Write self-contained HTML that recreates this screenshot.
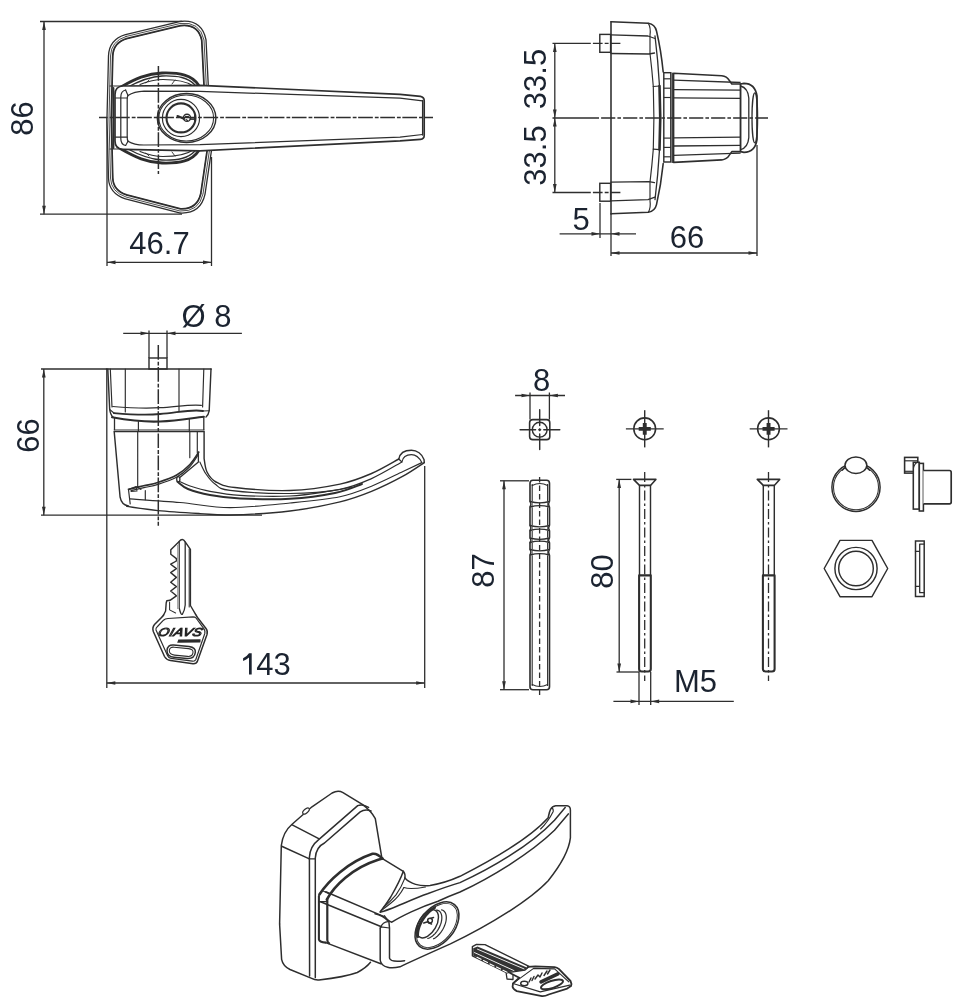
<!DOCTYPE html>
<html><head><meta charset="utf-8"><style>
html,body{margin:0;padding:0;background:#fff;}
svg{display:block;will-change:transform;}
text{font-family:"Liberation Sans",sans-serif;}
</style></head><body>
<svg width="953" height="1000" viewBox="0 0 953 1000">
<rect width="953" height="1000" fill="#fff"/>
<line x1="40" y1="21.5" x2="182" y2="21.5" stroke="#2e2e2e" stroke-width="1.30" />
<line x1="40" y1="214.2" x2="182" y2="214.2" stroke="#2e2e2e" stroke-width="1.30" />
<line x1="44" y1="21.5" x2="44" y2="214.2" stroke="#2e2e2e" stroke-width="1.30" />
<polygon points="44,21.5 45.85,30.00 42.15,30.00" fill="#2e2e2e"/>
<polygon points="44,214.2 42.15,205.70 45.85,205.70" fill="#2e2e2e"/>
<text x="33" y="118.5" font-size="31" text-anchor="middle" fill="#1b2330" transform="rotate(-90 33 118.5)">86</text>
<line x1="107" y1="118" x2="107" y2="266" stroke="#2e2e2e" stroke-width="1.30" />
<line x1="211.5" y1="157" x2="211.5" y2="266" stroke="#2e2e2e" stroke-width="1.30" />
<line x1="107" y1="262.3" x2="211.5" y2="262.3" stroke="#2e2e2e" stroke-width="1.30" />
<polygon points="107,262.3 115.50,260.45 115.50,264.15" fill="#2e2e2e"/>
<polygon points="211.5,262.3 203.00,264.15 203.00,260.45" fill="#2e2e2e"/>
<text x="159.5" y="253.5" font-size="31" text-anchor="middle" fill="#1b2330">46.7</text>
<clipPath id="plateclip"><path d="M 126,36.5 L 180,23.5 Q 200,21 204,40 L 209.5,150 L 203,194 Q 199,212 180,211 L 126,197 Q 111,192 110.5,178 L 109,118 L 110.5,56 Q 111,41 126,36.5 Z"/></clipPath>
<path d="M 126,36.5 L 180,23.5 Q 200,21 204,40 L 209.5,150 L 203,194 Q 199,212 180,211 L 126,197 Q 111,192 110.5,178 L 109,118 L 110.5,56 Q 111,41 126,36.5 Z" stroke="#2e2e2e" stroke-width="5.33" fill="none" stroke-linejoin="round" stroke-linecap="round" />
<path d="M 126,36.5 L 180,23.5 Q 200,21 204,40 L 209.5,150 L 203,194 Q 199,212 180,211 L 126,197 Q 111,192 110.5,178 L 109,118 L 110.5,56 Q 111,41 126,36.5 Z" stroke="#2e2e2e" stroke-width="6.24" fill="none" stroke-linejoin="round" stroke-linecap="round" clip-path="url(#plateclip)"/>
<path d="M 126,36.5 L 180,23.5 Q 200,21 204,40 L 209.5,150 L 203,194 Q 199,212 180,211 L 126,197 Q 111,192 110.5,178 L 109,118 L 110.5,56 Q 111,41 126,36.5 Z" stroke="#fff" stroke-width="2.73" fill="none" stroke-linejoin="round" stroke-linecap="round" />
<path d="M 126,36.5 L 180,23.5 Q 200,21 204,40 L 209.5,150 L 203,194 Q 199,212 180,211 L 126,197 Q 111,192 110.5,178 L 109,118 L 110.5,56 Q 111,41 126,36.5 Z" stroke="#2e2e2e" stroke-width="0.85" fill="none" stroke-linejoin="round" stroke-linecap="round" />
<path d="M 121,87 C 135,79 147,73.5 162,73 C 180,72.5 192,75 198.5,85 L 198.5,90 L 121,90 Z" fill="#fff" stroke="none"/>
<path d="M 121,87 C 135,79 147,73.5 162,73 C 180,72.5 192,75 198.5,85" stroke="#2e2e2e" stroke-width="2.86" fill="none" stroke-linejoin="round" stroke-linecap="round" />
<path d="M 126,88 C 138,81.5 149,76.5 162,76 C 178,75.5 188,77.5 195,85" stroke="#2e2e2e" stroke-width="1.30" fill="none" stroke-linejoin="round" stroke-linecap="round" />
<path d="M 140,84.5 C 150,80.5 156,79.5 163,79.5 C 176,79.5 186,81 193,86" stroke="#2e2e2e" stroke-width="1.10" fill="none" stroke-linejoin="round" stroke-linecap="round" />
<path d="M 146,83 L 149,80 M 172,84 L 175,80" stroke="#2e2e2e" stroke-width="0.91" fill="none" stroke-linejoin="round" stroke-linecap="round" />
<path d="M 121,149 C 135,157 147,162.5 162,163 C 180,163.5 192,161 198.5,151 L 198.5,146 L 121,146 Z" fill="#fff" stroke="none"/>
<path d="M 121,149 C 135,157 147,162.5 162,163 C 180,163.5 192,161 198.5,151" stroke="#2e2e2e" stroke-width="2.86" fill="none" stroke-linejoin="round" stroke-linecap="round" />
<path d="M 126,148 C 138,154.5 149,159.5 162,160 C 178,160.5 188,158.5 195,151" stroke="#2e2e2e" stroke-width="1.30" fill="none" stroke-linejoin="round" stroke-linecap="round" />
<path d="M 140,151.5 C 150,155.5 156,156.5 163,156.5 C 176,156.5 186,155 193,150" stroke="#2e2e2e" stroke-width="1.10" fill="none" stroke-linejoin="round" stroke-linecap="round" />
<path d="M 146,153 L 149,156 M 172,152 L 175,156" stroke="#2e2e2e" stroke-width="0.91" fill="none" stroke-linejoin="round" stroke-linecap="round" />
<path d="M 123.2,86 L 200,85.3 L 400,94.3 L 420.5,96.3 Q 424.2,97 424.2,100.5 L 424.2,135.5 Q 424.2,139 420.5,139.3 L 400,140.8 L 200,150.8 L 123.2,149.3 Q 115,149 115,141 L 115,94.5 Q 115,86.3 123.2,86 Z" stroke="#2e2e2e" stroke-width="1.69" fill="#fff" stroke-linejoin="round" stroke-linecap="round" />
<path d="M 113.4,88 L 113.4,148" stroke="#2e2e2e" stroke-width="1.95" fill="none" stroke-linejoin="round" stroke-linecap="round" />
<path d="M 110,86 L 121,86 M 110,149 L 121,149" stroke="#2e2e2e" stroke-width="1.17" fill="none" stroke-linejoin="round" stroke-linecap="round" />
<path d="M 125.6,90 Q 120.8,91 120.8,97 L 120.8,138.5 Q 120.8,144.5 125.6,145.5" stroke="#2e2e2e" stroke-width="1.23" fill="none" stroke-linejoin="round" stroke-linecap="round" />
<path d="M 128,95.6 Q 127.2,96.5 127.2,99 L 127.2,137 Q 127.2,140 128,141.2" stroke="#2e2e2e" stroke-width="1.23" fill="none" stroke-linejoin="round" stroke-linecap="round" />
<path d="M 115.5,98 L 127.2,98 M 115.5,137.2 L 127.2,137.2 M 125.6,90 L 128,95.6 M 125.6,145.5 L 128,141.2" stroke="#2e2e2e" stroke-width="1.17" fill="none" stroke-linejoin="round" stroke-linecap="round" />
<path d="M 128,95.6 Q 134,91.5 144,91.2 L 200,91.4 L 400,98.2 L 422.5,100.8" stroke="#2e2e2e" stroke-width="1.23" fill="none" stroke-linejoin="round" stroke-linecap="round" />
<path d="M 128,141.2 Q 134,145 144,145 L 200,144.6 L 400,137.2 L 422.5,134.5" stroke="#2e2e2e" stroke-width="1.23" fill="none" stroke-linejoin="round" stroke-linecap="round" />
<path d="M 422.6,100.5 L 422.6,135" stroke="#2e2e2e" stroke-width="1.30" fill="none" stroke-linejoin="round" stroke-linecap="round" />
<ellipse cx="186.6" cy="118" rx="29.3" ry="24.5" fill="#fff" stroke="#2e2e2e" stroke-width="1.43"/>
<ellipse cx="186.2" cy="118" rx="27.4" ry="23" fill="none" stroke="#2e2e2e" stroke-width="1.04"/>
<circle cx="181" cy="118" r="18.6" fill="none" stroke="#2e2e2e" stroke-width="1.17"/>
<circle cx="181" cy="117.9" r="14.5" fill="#fff" stroke="#2e2e2e" stroke-width="2.08"/>
<circle cx="187" cy="117.8" r="3.6" fill="none" stroke="#2e2e2e" stroke-width="1.43"/>
<path d="M 177.5,116 L 184,118.8" stroke="#2e2e2e" stroke-width="2.08" fill="none" stroke-linejoin="round" stroke-linecap="round" />
<path d="M 185.5,116.5 L 188.5,116.5 M 186,119.5 L 187.5,120.5" stroke="#2e2e2e" stroke-width="1.17" fill="none" stroke-linejoin="round" stroke-linecap="round" />
<rect x="189.5" y="118.3" width="4.6" height="1.6" fill="#2e2e2e"/>
<rect x="194" y="115" width="1.6" height="6" fill="#2e2e2e"/>
<line x1="552.5" y1="43.4" x2="620.4" y2="43.4" stroke="#2e2e2e" stroke-width="1.43" stroke-dasharray="38.3,2.1,9.7,2.1,3.9,2.4,9.4,50" stroke-dashoffset="0"/>
<line x1="552.5" y1="192.5" x2="620.4" y2="192.5" stroke="#2e2e2e" stroke-width="1.43" stroke-dasharray="38.3,2.1,9.7,2.1,3.9,2.4,9.4,50" stroke-dashoffset="0"/>
<line x1="554.8" y1="43.4" x2="554.8" y2="192.5" stroke="#2e2e2e" stroke-width="1.30" />
<polygon points="554.8,43.4 556.65,51.90 552.95,51.90" fill="#2e2e2e"/>
<polygon points="554.8,117.9 552.95,109.40 556.65,109.40" fill="#2e2e2e"/>
<polygon points="554.8,117.9 556.65,126.40 552.95,126.40" fill="#2e2e2e"/>
<polygon points="554.8,192.5 552.95,184.00 556.65,184.00" fill="#2e2e2e"/>
<text x="546" y="79" font-size="31" text-anchor="middle" fill="#1b2330" transform="rotate(-90 546 79)">33.5</text>
<text x="546" y="155.5" font-size="31" text-anchor="middle" fill="#1b2330" transform="rotate(-90 546 155.5)">33.5</text>
<line x1="600" y1="203" x2="600" y2="238" stroke="#2e2e2e" stroke-width="1.30" />
<line x1="611" y1="214" x2="611" y2="256" stroke="#2e2e2e" stroke-width="1.30" />
<line x1="757" y1="145" x2="757" y2="256" stroke="#2e2e2e" stroke-width="1.30" />
<line x1="559.6" y1="233.8" x2="636" y2="233.8" stroke="#2e2e2e" stroke-width="1.30" />
<polygon points="600,233.8 591.50,235.65 591.50,231.95" fill="#2e2e2e"/>
<polygon points="611,233.8 619.50,231.95 619.50,235.65" fill="#2e2e2e"/>
<text x="581" y="229.5" font-size="31" text-anchor="middle" fill="#1b2330">5</text>
<line x1="611" y1="253" x2="757" y2="253" stroke="#2e2e2e" stroke-width="1.30" />
<polygon points="611,253 619.50,251.15 619.50,254.85" fill="#2e2e2e"/>
<polygon points="757,253 748.50,254.85 748.50,251.15" fill="#2e2e2e"/>
<text x="687" y="247.5" font-size="31" text-anchor="middle" fill="#1b2330">66</text>
<path d="M 611,21.8 L 611,214" stroke="#2e2e2e" stroke-width="1.56" fill="none" stroke-linejoin="round" stroke-linecap="round" />
<path d="M 611,21.8 L 648.3,23.3 Q 655,24.5 656.5,31 Q 661,50 663.2,72" stroke="#2e2e2e" stroke-width="1.56" fill="none" stroke-linejoin="round" stroke-linecap="round" />
<path d="M 611,213.8 L 648.3,212.3 Q 655,211 656.5,204.6 Q 661,185 663.2,163.6" stroke="#2e2e2e" stroke-width="1.56" fill="none" stroke-linejoin="round" stroke-linecap="round" />
<path d="M 611,34.8 L 648,36.0 L 655,38.5" stroke="#2e2e2e" stroke-width="1.30" fill="none" stroke-linejoin="round" stroke-linecap="round" />
<path d="M 611,53.5 L 649,54.0 L 654.5,53.0" stroke="#2e2e2e" stroke-width="1.30" fill="none" stroke-linejoin="round" stroke-linecap="round" />
<path d="M 648.3,23.299999999999997 Q 651,28.0 650,35.0 L 650,53.5 Q 652,70.0 653.3,86.5" stroke="#2e2e2e" stroke-width="1.17" fill="none" stroke-linejoin="round" stroke-linecap="round" />
<path d="M 655,36.0 Q 658,60.0 659.5,86.0" stroke="#2e2e2e" stroke-width="1.30" fill="none" stroke-linejoin="round" stroke-linecap="round" />
<path d="M 653.3,86.5 L 659.5,86.0" stroke="#2e2e2e" stroke-width="1.17" fill="none" stroke-linejoin="round" stroke-linecap="round" />
<rect x="599.8" y="34.39999999999999" width="10.8" height="17.9" fill="none" stroke="#2e2e2e" stroke-width="1.43"/>
<path d="M 611,200.8 L 648,199.6 L 655,197.1" stroke="#2e2e2e" stroke-width="1.30" fill="none" stroke-linejoin="round" stroke-linecap="round" />
<path d="M 611,182.1 L 649,181.6 L 654.5,182.6" stroke="#2e2e2e" stroke-width="1.30" fill="none" stroke-linejoin="round" stroke-linecap="round" />
<path d="M 648.3,212.3 Q 651,207.6 650,200.6 L 650,182.1 Q 652,165.6 653.3,149.1" stroke="#2e2e2e" stroke-width="1.17" fill="none" stroke-linejoin="round" stroke-linecap="round" />
<path d="M 655,199.6 Q 658,175.6 659.5,149.6" stroke="#2e2e2e" stroke-width="1.30" fill="none" stroke-linejoin="round" stroke-linecap="round" />
<path d="M 653.3,149.1 L 659.5,149.6" stroke="#2e2e2e" stroke-width="1.17" fill="none" stroke-linejoin="round" stroke-linecap="round" />
<rect x="599.8" y="183.3" width="10.8" height="17.9" fill="none" stroke="#2e2e2e" stroke-width="1.43"/>
<path d="M 653.3,86.5 Q 654.5,117.8 653.3,149.1" stroke="#2e2e2e" stroke-width="1.17" fill="none" stroke-linejoin="round" stroke-linecap="round" />
<path d="M 659.5,86 Q 661,117.8 659.5,149.6" stroke="#2e2e2e" stroke-width="2.60" fill="none" stroke-linejoin="round" stroke-linecap="round" />
<rect x="663.8" y="72.7" width="7" height="89.3" fill="#fff" stroke="#2e2e2e" stroke-width="1.43"/>
<path d="M 672.3,73 L 672.3,162.5" stroke="#2e2e2e" stroke-width="1.17" fill="none" stroke-linejoin="round" stroke-linecap="round" />
<line x1="663.8" y1="78.8" x2="670.8" y2="78.8" stroke="#2e2e2e" stroke-width="1.17" />
<line x1="663.8" y1="88.2" x2="670.8" y2="88.2" stroke="#2e2e2e" stroke-width="1.17" />
<line x1="663.8" y1="97.5" x2="670.8" y2="97.5" stroke="#2e2e2e" stroke-width="1.17" />
<line x1="663.8" y1="138.1" x2="670.8" y2="138.1" stroke="#2e2e2e" stroke-width="1.17" />
<line x1="663.8" y1="147.4" x2="670.8" y2="147.4" stroke="#2e2e2e" stroke-width="1.17" />
<line x1="663.8" y1="156.8" x2="670.8" y2="156.8" stroke="#2e2e2e" stroke-width="1.17" />
<path d="M 673.6,73.2 L 721.7,75.7 Q 727,76.5 729,80 L 731.8,84 L 740.6,84 L 740.6,151.6 L 731.8,151.6 L 729,155.6 Q 727,159.1 721.7,159.9 L 673.6,162.4 Z" stroke="#2e2e2e" stroke-width="1.56" fill="#fff" stroke-linejoin="round" stroke-linecap="round" />
<line x1="673.6" y1="80.2" x2="740.6" y2="82.5" stroke="#2e2e2e" stroke-width="1.30" />
<line x1="673.6" y1="155.39999999999998" x2="740.6" y2="153.1" stroke="#2e2e2e" stroke-width="1.30" />
<line x1="673.6" y1="89.6" x2="740.6" y2="90.2" stroke="#2e2e2e" stroke-width="1.30" />
<line x1="673.6" y1="146.0" x2="740.6" y2="145.39999999999998" stroke="#2e2e2e" stroke-width="1.30" />
<line x1="673.6" y1="97.8" x2="740.6" y2="98.4" stroke="#2e2e2e" stroke-width="1.30" />
<line x1="673.6" y1="137.8" x2="740.6" y2="137.2" stroke="#2e2e2e" stroke-width="1.30" />
<path d="M 740.6,84 L 744,83.3 Q 755,83.3 757,96 L 757,139.6 Q 755,152.3 744,152.3 L 740.6,151.6 Z" stroke="#2e2e2e" stroke-width="1.69" fill="#fff" stroke-linejoin="round" stroke-linecap="round" />
<path d="M 740.6,86 Q 748,88 748.8,98 L 748.8,137.6 Q 748,147.6 740.6,149.6" stroke="#2e2e2e" stroke-width="1.30" fill="none" stroke-linejoin="round" stroke-linecap="round" />
<ellipse cx="754.8" cy="117.8" rx="2.8" ry="25" fill="none" stroke="#2e2e2e" stroke-width="1.30"/>
<line x1="41" y1="369" x2="107" y2="369" stroke="#2e2e2e" stroke-width="1.30" />
<line x1="41" y1="515.2" x2="262" y2="515.2" stroke="#2e2e2e" stroke-width="1.30" />
<line x1="43.8" y1="369" x2="43.8" y2="515.2" stroke="#2e2e2e" stroke-width="1.30" />
<polygon points="43.8,369 45.65,377.50 41.95,377.50" fill="#2e2e2e"/>
<polygon points="43.8,515.2 41.95,506.70 45.65,506.70" fill="#2e2e2e"/>
<text x="38.5" y="435.5" font-size="31" text-anchor="middle" fill="#1b2330" transform="rotate(-90 38.5 435.5)">66</text>
<line x1="106.8" y1="369" x2="106.8" y2="688" stroke="#2e2e2e" stroke-width="1.30" />
<line x1="424.7" y1="466" x2="424.7" y2="688" stroke="#2e2e2e" stroke-width="1.30" />
<line x1="106.8" y1="683" x2="424.7" y2="683" stroke="#2e2e2e" stroke-width="1.30" />
<polygon points="106.8,683 115.30,681.15 115.30,684.85" fill="#2e2e2e"/>
<polygon points="424.7,683 416.20,684.85 416.20,681.15" fill="#2e2e2e"/>
<text x="256.3" y="674.6" font-size="31" text-anchor="start" fill="#1b2330">43</text>
<path d="M 249,653.3 L 251.7,653.3 L 251.7,674.6 L 249,674.6 L 249,657.6 Q 246.4,659.8 243.1,661.1 L 243.1,658.3 Q 247.2,656.2 249,653.3 Z" fill="#1b2330"/>
<line x1="123.2" y1="333.3" x2="241.9" y2="333.3" stroke="#2e2e2e" stroke-width="1.30" />
<polygon points="149,333.3 140.50,335.15 140.50,331.45" fill="#2e2e2e"/>
<polygon points="167,333.3 175.50,331.45 175.50,335.15" fill="#2e2e2e"/>
<line x1="149" y1="330.6" x2="149" y2="358" stroke="#2e2e2e" stroke-width="1.30" />
<line x1="167" y1="330.6" x2="167" y2="358" stroke="#2e2e2e" stroke-width="1.30" />
<text x="181.5" y="327" font-size="31" text-anchor="start" fill="#1b2330">Ø 8</text>
<rect x="149" y="358" width="18" height="11" fill="#fff" stroke="#2e2e2e" stroke-width="1.43"/>
<path d="M 106.6,369 L 211,369" stroke="#2e2e2e" stroke-width="1.69" fill="none" stroke-linejoin="round" stroke-linecap="round" />
<path d="M 107.8,369 L 109.7,409.5 Q 110.5,415 113,417 M 211,369 L 209.2,410.7 Q 208.5,415 206,417" stroke="#2e2e2e" stroke-width="1.43" fill="none" stroke-linejoin="round" stroke-linecap="round" />
<path d="M 110.3,369 L 112,407 M 125.3,369 L 125.3,411.9 M 179,369 L 179,410.7 M 203.8,369 L 202.6,407" stroke="#2e2e2e" stroke-width="1.17" fill="none" stroke-linejoin="round" stroke-linecap="round" />
<path d="M 112.7,406.5 C 130,408 150,408.5 160,407.7 C 175,407 190,404 201.4,405.3" stroke="#2e2e2e" stroke-width="1.17" fill="none" stroke-linejoin="round" stroke-linecap="round" />
<path d="M 113.9,413.1 C 130,414.5 150,415 160,414 C 178,412.5 192,409 203,411" stroke="#2e2e2e" stroke-width="1.82" fill="none" stroke-linejoin="round" stroke-linecap="round" />
<path d="M 112,417.3 C 130,420.5 150,422 160,421.5 C 178,420.5 192,418 203.8,416.7" stroke="#2e2e2e" stroke-width="2.08" fill="none" stroke-linejoin="round" stroke-linecap="round" />
<path d="M 109.7,409.5 L 114.5,413.5 M 209.2,410.7 L 203,411" stroke="#2e2e2e" stroke-width="1.04" fill="none" stroke-linejoin="round" stroke-linecap="round" />
<path d="M 114.5,418.5 L 114.5,429.7 M 203.8,416.7 L 203.8,429.7" stroke="#2e2e2e" stroke-width="1.30" fill="none" stroke-linejoin="round" stroke-linecap="round" />
<path d="M 114.2,430 L 204,430 M 114.2,431.6 L 204,431.6" stroke="#2e2e2e" stroke-width="1.17" fill="none" stroke-linejoin="round" stroke-linecap="round" />
<path d="M 138.4,421.5 L 138.4,431 M 189.3,419 L 189.3,431" stroke="#2e2e2e" stroke-width="1.17" fill="none" stroke-linejoin="round" stroke-linecap="round" />
<path d="M 114.2,431.6 L 120.1,497.2 Q 121.5,505 128.5,506" stroke="#2e2e2e" stroke-width="1.43" fill="none" stroke-linejoin="round" stroke-linecap="round" />
<path d="M 137.7,431.6 L 137.7,487.1 M 189.8,431.6 L 189.8,457.7 M 197.3,431.6 L 197.3,452.7" stroke="#2e2e2e" stroke-width="1.17" fill="none" stroke-linejoin="round" stroke-linecap="round" />
<path d="M 204.1,431.6 L 204.1,458.6  C 204.58,460.83 205.02,468.10 207.00,472.00 C 208.98,475.90 211.33,479.42 216.00,482.00 C 220.67,484.58 222.67,486.08 235.00,487.50 C 247.33,488.92 272.50,491.07 290.00,490.50 C 307.50,489.93 326.42,486.93 340.00,484.10 C 353.58,481.27 361.70,477.68 371.50,473.50 C 381.30,469.32 394.25,461.42 398.80,459.00" stroke="#2e2e2e" stroke-width="1.43" fill="none" stroke-linejoin="round" stroke-linecap="round" />
<path d="M 398.8,459 C 400,452 406,450.2 411.4,450.2 C 417,450.2 422,454 424,459.4 L 424.3,462.6" stroke="#2e2e2e" stroke-width="1.43" fill="none" stroke-linejoin="round" stroke-linecap="round" />
<path d="M 199.90,462.00 C 200.92,464.00 203.48,470.33 206.00,474.00 C 208.52,477.67 211.00,481.27 215.00,484.00 C 219.00,486.73 217.50,488.82 230.00,490.40 C 242.50,491.98 271.67,493.68 290.00,493.50 C 308.33,493.32 326.42,491.78 340.00,489.30 C 353.58,486.82 361.18,483.15 371.50,478.60 C 381.82,474.05 396.83,464.77 401.90,462.00" stroke="#2e2e2e" stroke-width="1.17" fill="none" stroke-linejoin="round" stroke-linecap="round" />
<path d="M 401.9,462 C 403,456 407,454.7 411.4,454.7 C 415,454.7 419,457 421.8,462.6 M 398.8,459 L 401.9,462" stroke="#2e2e2e" stroke-width="1.17" fill="none" stroke-linejoin="round" stroke-linecap="round" />
<path d="M 198.80,452.10 C 197.32,454.17 193.58,460.68 189.90,464.50 C 186.22,468.32 182.05,472.00 176.70,475.00 C 171.35,478.00 163.32,480.70 157.80,482.50 C 152.28,484.30 148.48,484.65 143.60,485.80 C 138.72,486.95 131.02,488.80 128.50,489.40" stroke="#2e2e2e" stroke-width="1.69" fill="none" stroke-linejoin="round" stroke-linecap="round" />
<path d="M 197.80,455.50 C 196.42,457.42 193.05,463.37 189.50,467.00 C 185.95,470.63 181.75,474.40 176.50,477.30 C 171.25,480.20 163.42,482.68 158.00,484.40 C 152.58,486.12 148.50,486.57 144.00,487.60 C 139.50,488.63 133.17,490.10 131.00,490.60" stroke="#2e2e2e" stroke-width="1.17" fill="none" stroke-linejoin="round" stroke-linecap="round" />
<path d="M 198.4,452.1 L 198.4,462 L 180.4,477.1" stroke="#2e2e2e" stroke-width="1.30" fill="none" stroke-linejoin="round" stroke-linecap="round" />
<ellipse cx="178.3" cy="479.3" rx="1.6" ry="2.6" fill="#fff" stroke="#2e2e2e" stroke-width="1.30"/>
<path d="M 179.50,481.50 C 181.25,482.25 184.92,484.37 190.00,486.00 C 195.08,487.63 201.67,489.75 210.00,491.30 C 218.33,492.85 226.67,494.52 240.00,495.30 C 253.33,496.08 275.00,496.68 290.00,496.00 C 305.00,495.32 319.67,492.70 330.00,491.20 C 340.33,489.70 348.33,487.70 352.00,487.00" stroke="#2e2e2e" stroke-width="1.17" fill="none" stroke-linejoin="round" stroke-linecap="round" />
<path d="M 177.50,481.80 C 179.25,483.00 182.58,486.80 188.00,489.00 C 193.42,491.20 201.33,493.42 210.00,495.00 C 218.67,496.58 226.67,497.87 240.00,498.50 C 253.33,499.13 274.17,499.72 290.00,498.80 C 305.83,497.88 323.00,495.47 335.00,493.00 C 347.00,490.53 357.50,485.50 362.00,484.00" stroke="#2e2e2e" stroke-width="1.95" fill="none" stroke-linejoin="round" stroke-linecap="round" />
<path d="M 128.5,489.4 L 136,486.5 L 137,491 L 131,491.5 M 137,486.5 L 141,489.5" stroke="#2e2e2e" stroke-width="1.04" fill="none" stroke-linejoin="round" stroke-linecap="round" />
<path d="M 128.5,489.6 L 130.2,503.9 M 145.3,490.5 L 145.3,499.7" stroke="#2e2e2e" stroke-width="1.17" fill="none" stroke-linejoin="round" stroke-linecap="round" />
<path d="M 130.20,498.90 C 138.50,499.50 163.37,501.05 180.00,502.50 C 196.63,503.95 211.67,507.52 230.00,507.60 C 248.33,507.68 271.67,504.82 290.00,503.00 C 308.33,501.18 326.42,499.50 340.00,496.70 C 353.58,493.90 361.00,490.40 371.50,486.20 C 382.00,482.00 394.62,475.43 403.00,471.50 C 411.38,467.57 418.67,464.08 421.80,462.60" stroke="#2e2e2e" stroke-width="1.17" fill="none" stroke-linejoin="round" stroke-linecap="round" />
<path d="M 126.80,506.40 C 132.00,507.10 145.80,509.40 158.00,510.60 C 170.20,511.80 188.00,512.87 200.00,513.60 C 212.00,514.33 215.00,515.43 230.00,515.00 C 245.00,514.57 271.67,513.18 290.00,511.00 C 308.33,508.82 326.42,505.17 340.00,501.90 C 353.58,498.63 361.00,495.68 371.50,491.40 C 382.00,487.12 394.20,481.00 403.00,476.20 C 411.80,471.40 420.75,464.87 424.30,462.60" stroke="#2e2e2e" stroke-width="1.43" fill="none" stroke-linejoin="round" stroke-linecap="round" />
<line x1="158.3" y1="345" x2="158.3" y2="525.7" stroke="#2e2e2e" stroke-width="1.49" stroke-dasharray="14.7,2,3.8,1.6" stroke-dashoffset="0"/>
<path d="M 179.2,541.4 Q 182.4,537.5 185.2,541.8 L 190.4,549.4 L 190.4,605.5 L 195.6,614.3 M 179.2,541.4 L 170.8,549.8 L 170.8,554.2 L 176.4,558.6 L 176.4,561 L 170.7,564.2 L 176.4,568.6 L 170.7,572.6 L 176.4,577.4 L 170.7,582.2 L 176.4,586.6 L 170.7,591 L 176.4,595.8 L 170,600.3 L 166.8,600.7 L 166.2,603 L 165.6,611 L 163.6,615" stroke="#2e2e2e" stroke-width="1.43" fill="none" stroke-linejoin="round" stroke-linecap="round" />
<path d="M 179.2,541.4 L 179.2,608 Q 181,616 182.5,614 Q 184.8,610 185.2,605 L 185.2,541.8" stroke="#2e2e2e" stroke-width="1.30" fill="none" stroke-linejoin="round" stroke-linecap="round" />
<rect x="177" y="545" width="2" height="64" fill="#aaa"/>
<path d="M 189.2,549 L 189.2,607" stroke="#2e2e2e" stroke-width="1.04" fill="none" stroke-linejoin="round" stroke-linecap="round" />
<path d="M 169.6,601.9 L 169.6,609.9 L 175.6,613" stroke="#2e2e2e" stroke-width="1.04" fill="none" stroke-linejoin="round" stroke-linecap="round" />
<path d="M 163.6,615 Q 163,616 161.5,617.5 L 154.5,624.5 Q 152,627.5 153.3,631.5 L 164.5,656.5 Q 166.5,660 170.5,660.5 L 193,663.8 Q 196.5,664 197.5,661 L 207,634.5 Q 208,631 206,628.5 L 197.5,617.5 Q 196.5,616 195.6,614.3" stroke="#2e2e2e" stroke-width="1.49" fill="none" stroke-linejoin="round" stroke-linecap="round" />
<path d="M 157.5,626.5 L 163.5,620.2 Q 165,618.8 168,618.5 L 193,616.8 Q 195,616.8 196,618 L 204,628.8 Q 205.5,631 204.8,633.5 L 195.8,659.5 Q 195,661.5 192.5,661.2 L 171,658.3 Q 168.5,658 167.5,655.5 L 156,630 Q 155.5,628 157.5,626.5" stroke="#2e2e2e" stroke-width="1.17" fill="none" stroke-linejoin="round" stroke-linecap="round" />
<text x="0" y="0" font-size="13" font-style="italic" text-anchor="middle" fill="#fff" stroke="#222" stroke-width="1.10" letter-spacing="0.4" transform="translate(179.5,636) scale(1.08,0.88) skewX(-14)">OIAVS</text>
<polygon points="178.3,639.4 200.6,639.2 200.4,642.6 177.2,642.8" fill="#2a2a2a"/>
<path d="M 173.5,645 L 189,646.5 Q 196,647.5 195.3,652.5 Q 194.5,659 187,658.5 L 174,657.2 Q 167,656.4 167,650.7 Q 167.5,644.5 173.5,645 Z" fill="none" stroke="#2e2e2e" stroke-width="1.49"/>
<path d="M 174,647.2 L 188.5,648.6 Q 193.5,649.2 193,652.7 Q 192.5,656.8 187.5,656.4 L 174.5,655.1 Q 169.3,654.5 169.3,650.8 Q 169.6,646.8 174,647.2 Z" fill="none" stroke="#2e2e2e" stroke-width="1.10"/>
<line x1="515.1" y1="395.5" x2="565" y2="395.5" stroke="#2e2e2e" stroke-width="1.30" />
<polygon points="530,395.5 521.50,397.35 521.50,393.65" fill="#2e2e2e"/>
<polygon points="549.4,395.5 557.90,393.65 557.90,397.35" fill="#2e2e2e"/>
<line x1="530" y1="392.5" x2="530" y2="419.6" stroke="#2e2e2e" stroke-width="1.30" />
<line x1="549.4" y1="392.5" x2="549.4" y2="419.6" stroke="#2e2e2e" stroke-width="1.30" />
<text x="541.5" y="390.5" font-size="31" text-anchor="middle" fill="#1b2330">8</text>
<rect x="529.6" y="419.6" width="20.2" height="20" rx="3.2" fill="#fff" stroke="#2e2e2e" stroke-width="1.56"/>
<circle cx="539.7" cy="429.7" r="7.4" fill="none" stroke="#2e2e2e" stroke-width="1.37"/>
<path d="M 520.1,429.7 L 535.6,429.7 M 543.8,429.7 L 559.8,429.7 M 539.7,409.8 L 539.7,425.5 M 539.7,433.9 L 539.7,449.5" stroke="#2e2e2e" stroke-width="1.43" fill="none" stroke-linejoin="round" stroke-linecap="round" />
<path d="M 539.7,427.9 L 541.5,429.7 L 539.7,431.5 L 537.9,429.7 Z" fill="#2e2e2e"/>
<rect x="530" y="480.3" width="19.5" height="209.4" rx="3" fill="#fff" stroke="#2e2e2e" stroke-width="1.62"/>
<line x1="532.2" y1="484" x2="532.2" y2="686" stroke="#2e2e2e" stroke-width="1.10" />
<line x1="547.6" y1="484" x2="547.6" y2="686" stroke="#2e2e2e" stroke-width="1.10" />
<path d="M 532.2,485.5 Q 539.8,481.5 547.6,485.5" stroke="#2e2e2e" stroke-width="1.10" fill="none" stroke-linejoin="round" stroke-linecap="round" />
<path d="M 532.2,684.5 Q 539.8,688.5 547.6,684.5" stroke="#2e2e2e" stroke-width="1.10" fill="none" stroke-linejoin="round" stroke-linecap="round" />
<rect x="528.5" y="501.2" width="22.5" height="6.1" fill="#fff"/>
<path d="M 530,501.5 Q 539.8,504.1 549.5,501.5 M 530,507 Q 539.8,504.4 549.5,507" stroke="#2e2e2e" stroke-width="1.30" fill="none" stroke-linejoin="round" stroke-linecap="round" />
<path d="M 530,501.5 Q 531.8,504.25 530,507 M 549.5,501.5 Q 547.7,504.25 549.5,507" stroke="#2e2e2e" stroke-width="1.30" fill="none" stroke-linejoin="round" stroke-linecap="round" />
<path d="M 532.2,502.5 L 532.2,506 M 547.6,502.5 L 547.6,506" stroke="#2e2e2e" stroke-width="0.78" fill="none" stroke-linejoin="round" stroke-linecap="round" />
<rect x="528.5" y="525.2" width="22.5" height="5.6" fill="#fff"/>
<path d="M 530,525.5 Q 539.8,528.1 549.5,525.5 M 530,530.5 Q 539.8,527.9 549.5,530.5" stroke="#2e2e2e" stroke-width="1.30" fill="none" stroke-linejoin="round" stroke-linecap="round" />
<path d="M 530,525.5 Q 531.8,528.0 530,530.5 M 549.5,525.5 Q 547.7,528.0 549.5,530.5" stroke="#2e2e2e" stroke-width="1.30" fill="none" stroke-linejoin="round" stroke-linecap="round" />
<path d="M 532.2,526.5 L 532.2,529.5 M 547.6,526.5 L 547.6,529.5" stroke="#2e2e2e" stroke-width="0.78" fill="none" stroke-linejoin="round" stroke-linecap="round" />
<rect x="528.5" y="537.7" width="22.5" height="5.1" fill="#fff"/>
<path d="M 530,538 Q 539.8,540.6 549.5,538 M 530,542.5 Q 539.8,539.9 549.5,542.5" stroke="#2e2e2e" stroke-width="1.30" fill="none" stroke-linejoin="round" stroke-linecap="round" />
<path d="M 530,538 Q 531.8,540.25 530,542.5 M 549.5,538 Q 547.7,540.25 549.5,542.5" stroke="#2e2e2e" stroke-width="1.30" fill="none" stroke-linejoin="round" stroke-linecap="round" />
<path d="M 532.2,539 L 532.2,541.5 M 547.6,539 L 547.6,541.5" stroke="#2e2e2e" stroke-width="0.78" fill="none" stroke-linejoin="round" stroke-linecap="round" />
<rect x="528.5" y="549.2" width="22.5" height="6.1" fill="#fff"/>
<path d="M 530,549.5 Q 539.8,552.1 549.5,549.5 M 530,555 Q 539.8,552.4 549.5,555" stroke="#2e2e2e" stroke-width="1.30" fill="none" stroke-linejoin="round" stroke-linecap="round" />
<path d="M 530,549.5 Q 531.8,552.25 530,555 M 549.5,549.5 Q 547.7,552.25 549.5,555" stroke="#2e2e2e" stroke-width="1.30" fill="none" stroke-linejoin="round" stroke-linecap="round" />
<path d="M 532.2,550.5 L 532.2,554 M 547.6,550.5 L 547.6,554" stroke="#2e2e2e" stroke-width="0.78" fill="none" stroke-linejoin="round" stroke-linecap="round" />
<line x1="539.6" y1="477" x2="539.6" y2="695" stroke="#2e2e2e" stroke-width="1.30" stroke-dasharray="5.5,3" stroke-dashoffset="0"/>
<line x1="500" y1="480.8" x2="529" y2="480.8" stroke="#2e2e2e" stroke-width="1.30" />
<line x1="500" y1="689.7" x2="529" y2="689.7" stroke="#2e2e2e" stroke-width="1.30" />
<line x1="504" y1="480.8" x2="504" y2="689.7" stroke="#2e2e2e" stroke-width="1.30" />
<polygon points="504,480.8 505.85,489.30 502.15,489.30" fill="#2e2e2e"/>
<polygon points="504,689.7 502.15,681.20 505.85,681.20" fill="#2e2e2e"/>
<text x="493.5" y="570.5" font-size="31" text-anchor="middle" fill="#1b2330" transform="rotate(-90 493.5 570.5)">87</text>
<circle cx="644.7" cy="428.8" r="10.9" fill="#fff" stroke="#2e2e2e" stroke-width="1.56"/>
<line x1="625.9000000000001" y1="428.9" x2="663.7" y2="428.9" stroke="#2e2e2e" stroke-width="1.43" />
<line x1="644.7" y1="410.2" x2="644.7" y2="447.4" stroke="#2e2e2e" stroke-width="1.43" />
<path d="M 638.7,427.1 h 4.1 v -4.2 h 3.9 v 4.2 h 4.1 v 3.6 h -4.1 v 4.1 h -3.9 v -4.1 h -4.1 z" fill="#2e2e2e"/>
<path d="M 633.5,479.4 L 655.9000000000001,479.4 L 650.5,485.4 L 639.5,485.4 Z" stroke="#2e2e2e" stroke-width="1.56" fill="#fff" stroke-linejoin="round" stroke-linecap="round" />
<path d="M 639.5,485.4 L 639.5,575.4 M 650.5,485.4 L 650.5,575.4" stroke="#2e2e2e" stroke-width="1.43" fill="none" stroke-linejoin="round" stroke-linecap="round" />
<path d="M 639.1,575.4 L 650.8000000000001,575.4 L 650.8000000000001,669 Q 650.8000000000001,671.5 648.2,671.5 L 641.7,671.5 Q 639.1,671.5 639.1,669 Z" stroke="#2e2e2e" stroke-width="2.08" fill="none" stroke-linejoin="round" stroke-linecap="round" />
<line x1="644.7" y1="472" x2="644.7" y2="681" stroke="#2e2e2e" stroke-width="1.30" stroke-dasharray="10,3,2.5,3" stroke-dashoffset="0"/>
<circle cx="768.5" cy="428.8" r="10.9" fill="#fff" stroke="#2e2e2e" stroke-width="1.56"/>
<line x1="749.7" y1="428.9" x2="787.5" y2="428.9" stroke="#2e2e2e" stroke-width="1.43" />
<line x1="768.5" y1="410.2" x2="768.5" y2="447.4" stroke="#2e2e2e" stroke-width="1.43" />
<path d="M 762.5,427.1 h 4.1 v -4.2 h 3.9 v 4.2 h 4.1 v 3.6 h -4.1 v 4.1 h -3.9 v -4.1 h -4.1 z" fill="#2e2e2e"/>
<path d="M 757.3,479.4 L 779.7,479.4 L 774.3,485.4 L 763.3,485.4 Z" stroke="#2e2e2e" stroke-width="1.56" fill="#fff" stroke-linejoin="round" stroke-linecap="round" />
<path d="M 763.3,485.4 L 763.3,575.4 M 774.3,485.4 L 774.3,575.4" stroke="#2e2e2e" stroke-width="1.43" fill="none" stroke-linejoin="round" stroke-linecap="round" />
<path d="M 762.9,575.4 L 774.6,575.4 L 774.6,669 Q 774.6,671.5 772.0,671.5 L 765.5,671.5 Q 762.9,671.5 762.9,669 Z" stroke="#2e2e2e" stroke-width="2.08" fill="none" stroke-linejoin="round" stroke-linecap="round" />
<line x1="768.5" y1="472" x2="768.5" y2="681" stroke="#2e2e2e" stroke-width="1.30" stroke-dasharray="10,3,2.5,3" stroke-dashoffset="0"/>
<line x1="616.2" y1="479.4" x2="631.4" y2="479.4" stroke="#2e2e2e" stroke-width="1.30" />
<line x1="616.5" y1="672" x2="639" y2="672" stroke="#2e2e2e" stroke-width="1.30" />
<line x1="619.2" y1="479.4" x2="619.2" y2="672" stroke="#2e2e2e" stroke-width="1.30" />
<polygon points="619.2,479.4 621.05,487.90 617.35,487.90" fill="#2e2e2e"/>
<polygon points="619.2,672 617.35,663.50 621.05,663.50" fill="#2e2e2e"/>
<text x="613" y="571.5" font-size="31" text-anchor="middle" fill="#1b2330" transform="rotate(-90 613 571.5)">80</text>
<line x1="639" y1="672" x2="639" y2="705" stroke="#2e2e2e" stroke-width="1.30" />
<line x1="650.7" y1="672" x2="650.7" y2="705" stroke="#2e2e2e" stroke-width="1.30" />
<line x1="613.4" y1="701.4" x2="733.8" y2="701.4" stroke="#2e2e2e" stroke-width="1.30" />
<polygon points="639,701.4 630.50,703.25 630.50,699.55" fill="#2e2e2e"/>
<polygon points="650.7,701.4 659.20,699.55 659.20,703.25" fill="#2e2e2e"/>
<text x="674" y="691.5" font-size="31" text-anchor="start" fill="#1b2330">M5</text>
<circle cx="856" cy="487.3" r="24.1" fill="#fff" stroke="#2e2e2e" stroke-width="1.49"/>
<circle cx="856" cy="487.3" r="22.5" fill="none" stroke="#2e2e2e" stroke-width="1.04"/>
<ellipse cx="855.9" cy="465.2" rx="10.9" ry="8.2" fill="#fff" stroke="#2e2e2e" stroke-width="1.49"/>
<path d="M 845.3,467.6 L 842,470.4 M 866.5,467.6 L 869.8,470.4" stroke="#2e2e2e" stroke-width="1.30" fill="none" stroke-linejoin="round" stroke-linecap="round" />
<rect x="904.6" y="457.4" width="13.2" height="15.7" fill="#fff" stroke="#2e2e2e" stroke-width="1.56"/>
<line x1="904.6" y1="460.8" x2="917.8" y2="460.8" stroke="#2e2e2e" stroke-width="1.17" />
<line x1="904.6" y1="471.3" x2="917.8" y2="471.3" stroke="#2e2e2e" stroke-width="1.17" />
<rect x="913.3" y="462.3" width="6" height="46.8" fill="#fff" stroke="#2e2e2e" stroke-width="1.56"/>
<rect x="919.3" y="463.4" width="4.1" height="47.6" fill="#fff" stroke="#2e2e2e" stroke-width="1.56"/>
<path d="M 923.4,470.5 L 949.5,470.5 Q 951.2,470.5 951.2,472.5 L 951.2,502 Q 951.2,503.9 949.5,503.9 L 923.4,503.9" fill="#fff" stroke="#2e2e2e" stroke-width="1.69"/>
<path d="M 913.5,468 Q 914.5,463.5 917.5,462.3" stroke="#2e2e2e" stroke-width="1.04" fill="none" stroke-linejoin="round" stroke-linecap="round" />
<polygon points="824.2,568.5 840,540.4 872,540.4 887.7,568.5 872,596.7 840,596.7" fill="#fff" stroke="#2e2e2e" stroke-width="1.43" stroke-linejoin="round"/>
<circle cx="856" cy="568.5" r="21.1" fill="none" stroke="#2e2e2e" stroke-width="1.43"/>
<circle cx="856" cy="568.5" r="17.3" fill="none" stroke="#2e2e2e" stroke-width="1.43"/>
<rect x="915.5" y="541" width="8.7" height="55.5" fill="#fff" stroke="#2e2e2e" stroke-width="1.49"/>
<path d="M 919.7,544.1 L 919.7,592.7 M 919.7,544.1 L 924.2,544.1 M 919.7,592.7 L 924.2,592.7 M 915.5,551.4 L 919.7,551.4 M 915.5,586.4 L 919.7,586.4" stroke="#2e2e2e" stroke-width="1.30" fill="none" stroke-linejoin="round" stroke-linecap="round" />
<path d="M 279.6,924 L 281.3,845.5 Q 283,832 291.8,824.5 L 312,806.8 L 332.1,793 Q 338,789.8 343,792.6 L 362.7,804.7 Q 371.1,811 375.3,818.6 L 382,858.9" stroke="#2e2e2e" stroke-width="1.49" fill="none" stroke-linejoin="round" stroke-linecap="round" />
<path d="M 279.6,924 L 281.6,959.3 Q 283,966 290,969.5 L 311.7,978.4 Q 315,980.2 319,979.9 Q 345,977 357.3,972.5 Q 366,968 370.5,962.3" stroke="#2e2e2e" stroke-width="1.49" fill="none" stroke-linejoin="round" stroke-linecap="round" />
<ellipse cx="306" cy="811" rx="4" ry="2" transform="rotate(-42 306 811)" fill="#fff" stroke="#2e2e2e" stroke-width="1.17"/>
<path d="M 281.7,846.3 L 309.4,858.9 M 292.2,824.9 L 318.7,838.7" stroke="#2e2e2e" stroke-width="1.49" fill="none" stroke-linejoin="round" stroke-linecap="round" />
<path d="M 309.6,976 L 309.4,857.2 Q 310,846.3 318.7,839.6 L 357.7,805.6 Q 362.7,803.6 368.6,807.3" stroke="#2e2e2e" stroke-width="1.49" fill="none" stroke-linejoin="round" stroke-linecap="round" />
<path d="M 315.3,977.5 L 315.3,858 Q 316,847 324.5,843 L 360.2,811.9 Q 365,808.8 371,811" stroke="#2e2e2e" stroke-width="1.49" fill="none" stroke-linejoin="round" stroke-linecap="round" />
<path d="M 309.4,858.9 L 315.3,858.9" stroke="#2e2e2e" stroke-width="1.17" fill="none" stroke-linejoin="round" stroke-linecap="round" />
<path d="M 319,897 Q 330,884 352,863.9 Q 365,855 377.2,855.5 L 382.4,858.6 L 402.3,870.2 L 404.9,878 L 404.5,887 L 390,915 L 390,965 L 380.8,963.7 L 319,941 Z" fill="#fff" stroke="none"/>
<path d="M 319.4,894.5 C 328,881 348,862 372.5,853.8 Q 377,853 382.4,858.6" stroke="#2e2e2e" stroke-width="2.60" fill="none" stroke-linejoin="round" stroke-linecap="round" />
<path d="M 326.8,899.6 C 334,886 352,868 378.2,859.7 L 382.4,858.6" stroke="#2e2e2e" stroke-width="2.60" fill="none" stroke-linejoin="round" stroke-linecap="round" />
<path d="M 382.4,858.6 L 403.3,871.3 Q 405.5,874 404.9,878.1" stroke="#2e2e2e" stroke-width="1.49" fill="none" stroke-linejoin="round" stroke-linecap="round" />
<path d="M 318.9,896 L 318.9,939.4 Q 319.5,942 325.7,942.6" stroke="#2e2e2e" stroke-width="2.08" fill="none" stroke-linejoin="round" stroke-linecap="round" />
<path d="M 325.7,942.6 L 380.8,963.7" stroke="#2e2e2e" stroke-width="1.49" fill="none" stroke-linejoin="round" stroke-linecap="round" />
<path d="M 327.3,899.6 L 327.3,940 Q 327.5,942.6 329,943.2" stroke="#2e2e2e" stroke-width="2.21" fill="none" stroke-linejoin="round" stroke-linecap="round" />
<path d="M 318.9,901.7 L 327.3,901.7 M 323.6,891.2 L 330,894.3" stroke="#2e2e2e" stroke-width="1.17" fill="none" stroke-linejoin="round" stroke-linecap="round" />
<path d="M 325.7,891.7 L 383.5,916.4 M 320.5,901.7 L 381.4,926.8" stroke="#2e2e2e" stroke-width="1.49" fill="none" stroke-linejoin="round" stroke-linecap="round" />
<path d="M 403.3,871.3 Q 400,881 390.7,897 Q 385,906 380.2,911.7" stroke="#2e2e2e" stroke-width="1.49" fill="none" stroke-linejoin="round" stroke-linecap="round" />
<path d="M 404.9,878.1 Q 401,888 396,894.9 Q 390,902 383.4,907.5" stroke="#2e2e2e" stroke-width="1.17" fill="none" stroke-linejoin="round" stroke-linecap="round" />
<path d="M 403.9,887.5 Q 399,897 391,903 Q 386,907 381.3,910.6" stroke="#2e2e2e" stroke-width="1.17" fill="none" stroke-linejoin="round" stroke-linecap="round" />
<path d="M 403.9,887.5 Q 410,889.8 425.4,887" stroke="#2e2e2e" stroke-width="1.17" fill="none" stroke-linejoin="round" stroke-linecap="round" />
<path d="M 404.9,878.1 C 410,884 420,886.5 430,885.5 C 445,883 453,879.5 460,876.3 C 490,861 530,838 548.2,817.7 C 549.4,812 550,806.5 555.7,805.7 L 567,805.7 Q 570.4,806 570.4,810 L 570.4,837.9 C 569,850 560,866 548.2,880.7 C 530,900 490,925 450.4,943.9 C 430,953 410,962 400,966.8 C 395,968 390,968 387.6,967.2 Q 381,966 380.2,960 L 380.2,928" stroke="#2e2e2e" stroke-width="1.49" fill="none" stroke-linejoin="round" stroke-linecap="round" />
<path d="M 380.2,912.2 C 390,910 410,900 427.5,893.8 C 440,889 450,885.5 460,882.6 C 490,869 530,846 554.5,820.2 L 565.2,807.6" stroke="#2e2e2e" stroke-width="1.49" fill="none" stroke-linejoin="round" stroke-linecap="round" />
<path d="M 384.4,915.9 Q 388,921 391.8,922.2 C 400,917 420,907 438,901.2 C 445,898 452,895 460,892 C 490,878 530,854 554.5,830.3 L 568.3,813.9" stroke="#2e2e2e" stroke-width="1.49" fill="none" stroke-linejoin="round" stroke-linecap="round" />
<path d="M 540.6,829 Q 548.2,821.5 553.2,811.4 Q 553.5,808.5 552,808.3" stroke="#2e2e2e" stroke-width="1.17" fill="none" stroke-linejoin="round" stroke-linecap="round" />
<path d="M 375,913.8 Q 382.3,915 388.9,921.6 L 389.5,928 L 389.5,958.2 Q 390.5,962.6 404.6,960.7" stroke="#2e2e2e" stroke-width="1.49" fill="none" stroke-linejoin="round" stroke-linecap="round" />
<path d="M 380.2,928 Q 383,921 388.9,921.6 M 380.8,926.8 L 389.5,928" stroke="#2e2e2e" stroke-width="1.17" fill="none" stroke-linejoin="round" stroke-linecap="round" />
<ellipse cx="437" cy="925.5" rx="27.3" ry="17.2" transform="rotate(-50 437 925.5)" fill="#fff" stroke="#2e2e2e" stroke-width="1.56"/>
<ellipse cx="436.9" cy="925.5" rx="25.6" ry="15.7" transform="rotate(-50 436.9 925.5)" fill="none" stroke="#2e2e2e" stroke-width="0.98"/>
<path d="M 417.81,936.74 L 417.75,936.04 L 417.73,935.32 L 417.73,934.58 L 417.76,933.84 L 417.82,933.07 L 417.91,932.30 L 418.02,931.51 L 418.17,930.72 L 418.34,929.92 L 418.55,929.11 L 418.78,928.29 L 419.03,927.47 L 419.32,926.65 L 419.63,925.82 L 419.96,924.99 L 420.32,924.17 L 420.71,923.34 L 421.12,922.52 L 421.56,921.70 L 422.02,920.89 L 422.50,920.09 L 423.00,919.29 L 423.52,918.50 L 424.06,917.72 L 424.62,916.96 L 425.20,916.21 L 425.80,915.47 L 426.42,914.74 L 427.05,914.04 L 427.69,913.35 L 428.35,912.68 L 429.02,912.02 L 429.70,911.39 L 430.39,910.78 L 431.09,910.20 L 431.80,909.63 L 432.52,909.09 L 433.24,908.58 L 433.97,908.09 L 434.71,907.62" stroke="#2e2e2e" stroke-width="2.60" fill="none" stroke-linejoin="round" stroke-linecap="round" />
<ellipse cx="427.6" cy="923.8" rx="15.5" ry="8.8" transform="rotate(-60 427.6 923.8)" fill="none" stroke="#2e2e2e" stroke-width="1.43"/>
<path d="M 436.44,910.03 L 437.10,910.12 L 437.74,910.29 L 438.34,910.53 L 438.90,910.84 L 439.42,911.22 L 439.89,911.67 L 440.32,912.18 L 440.70,912.76 L 441.02,913.40 L 441.29,914.10 L 441.51,914.85 L 441.68,915.64 L 441.78,916.49 L 441.83,917.37 L 441.83,918.29 L 441.76,919.25 L 441.64,920.23 L 441.46,921.23 L 441.23,922.25 L 440.94,923.27 L 440.60,924.31 L 440.22,925.34 L 439.78,926.38 L 439.29,927.40 L 438.76,928.40 L 438.19,929.38 L 437.58,930.34 L 436.94,931.27 L 436.26,932.16 L 435.56,933.01 L 434.83,933.82 L 434.08,934.58 L 433.31,935.28 L 432.53,935.93 L 431.75,936.52 L 430.95,937.05 L 430.16,937.51 L 429.37,937.90 L 428.58,938.22 L 427.81,938.48" stroke="#2e2e2e" stroke-width="1.23" fill="none" stroke-linejoin="round" stroke-linecap="round" />
<path d="M 441.59,909.84 L 442.18,910.01 L 442.74,910.24 L 443.27,910.53 L 443.76,910.88 L 444.22,911.29 L 444.63,911.76 L 445.00,912.29 L 445.32,912.86 L 445.61,913.49 L 445.84,914.17 L 446.03,914.90 L 446.17,915.66 L 446.26,916.47 L 446.30,917.31 L 446.29,918.18 L 446.24,919.08 L 446.13,920.01 L 445.98,920.96 L 445.78,921.92 L 445.53,922.89 L 445.23,923.88 L 444.89,924.86 L 444.51,925.85 L 444.09,926.83 L 443.62,927.81 L 443.12,928.77 L 442.58,929.71 L 442.01,930.64 L 441.41,931.53 L 440.78,932.40 L 440.13,933.24 L 439.45,934.04 L 438.75,934.80 L 438.03,935.52 L 437.31,936.19 L 436.57,936.81 L 435.82,937.39 L 435.07,937.90 L 434.31,938.37 L 433.56,938.77" stroke="#2e2e2e" stroke-width="1.23" fill="none" stroke-linejoin="round" stroke-linecap="round" />
<circle cx="430" cy="920.6" r="2.4" fill="none" stroke="#2e2e2e" stroke-width="1.43"/>
<path d="M 423.8,923 L 428.5,921.6 M 428.5,922.8 L 431.5,924 M 431,918.2 L 433.5,917.6" stroke="#2e2e2e" stroke-width="1.56" fill="none" stroke-linejoin="round" stroke-linecap="round" />
<polygon points="472.4,946.6 476.5,944.4 485,944.6 529,966.4 525,970 507,972.8 472.4,955.8" fill="#fff" stroke="#2e2e2e" stroke-width="1.43" stroke-linejoin="round"/>
<polygon points="473.2,948.2 477.5,946.5 528,968 525,970.3 512,971.5 506,972.5 473.2,955.5" fill="#333"/>
<path d="M 477.5,949.2 L 524,968.9" stroke="#fff" stroke-width="0.91" fill="none" stroke-linejoin="round" stroke-linecap="round" />
<path d="M 474.5,952.6 L 514,970.6" stroke="#fff" stroke-width="0.91" fill="none" stroke-linejoin="round" stroke-linecap="round" />
<path d="M 477,957.3 L 481,959.3" stroke="#fff" stroke-width="1.17" fill="none" stroke-linejoin="round" stroke-linecap="round" />
<path d="M 483.5,960.6 L 487.5,962.6" stroke="#fff" stroke-width="1.17" fill="none" stroke-linejoin="round" stroke-linecap="round" />
<path d="M 490,963.9 L 494,965.9" stroke="#fff" stroke-width="1.17" fill="none" stroke-linejoin="round" stroke-linecap="round" />
<path d="M 496.5,967.1 L 500.5,969.1" stroke="#fff" stroke-width="1.17" fill="none" stroke-linejoin="round" stroke-linecap="round" />
<path d="M 503,970.3 L 507,972.3" stroke="#fff" stroke-width="1.17" fill="none" stroke-linejoin="round" stroke-linecap="round" />
<path d="M 506.2,973.3 L 507,979 L 513,979.5 L 513,975" stroke="#2e2e2e" stroke-width="1.30" fill="none" stroke-linejoin="round" stroke-linecap="round" />
<path d="M 527.7,966.8 L 535.3,966.3 L 554.6,967.2 Q 557,967.5 558.8,968.9 L 570.5,981 Q 572,984 571,986 L 567.2,988.6 L 548.7,994.5 Q 545,996.3 542,996.1 L 516.8,991.1 Q 513,989 512.6,986.9 L 513,983.5 L 519.3,977.7 L 510,973" stroke="#2e2e2e" stroke-width="1.82" fill="none" stroke-linejoin="round" stroke-linecap="round" />
<path d="M 513,983.5 L 540.3,991.9 L 569.7,985.2" stroke="#2e2e2e" stroke-width="1.30" fill="none" stroke-linejoin="round" stroke-linecap="round" />
<path d="M 515.1,981.9 L 533.6,968.4 L 554.6,968.9 L 568.8,981.9" stroke="#2e2e2e" stroke-width="1.17" fill="none" stroke-linejoin="round" stroke-linecap="round" />
<path d="M 529,982 L 531,978 M 532,980.5 L 534,976.5 M 535,979 L 538,975 L 540,977 L 542,973 M 544,975.5 L 547,971 M 547.5,974 L 550,970" stroke="#2e2e2e" stroke-width="1.43" fill="none" stroke-linejoin="round" stroke-linecap="round" />
<path d="M 541.1,981.9 L 557.9,973.9" stroke="#2e2e2e" stroke-width="3.64" fill="none" stroke-linejoin="round" stroke-linecap="round" />
<ellipse cx="552" cy="984.4" rx="11.5" ry="3.6" transform="rotate(-18 552 984.4)" fill="none" stroke="#2e2e2e" stroke-width="1.95"/>
<ellipse cx="524.3" cy="983.5" rx="3.6" ry="2.2" fill="none" stroke="#2e2e2e" stroke-width="1.43"/>
<line x1="99" y1="117.6" x2="433" y2="117.6" stroke="#2e2e2e" stroke-width="1.49" stroke-dasharray="14.7,2,3.8,1.6" stroke-dashoffset="6.06"/>
<line x1="158.4" y1="66" x2="158.4" y2="174" stroke="#2e2e2e" stroke-width="1.49" stroke-dasharray="14.7,2,3.8,1.6" stroke-dashoffset="0"/>
<line x1="552.5" y1="117.9" x2="768" y2="117.9" stroke="#2e2e2e" stroke-width="1.49" stroke-dasharray="46.5,2.1,14.2,2.1,3.6,2.1,14.2,2.1,3.6,2.1,14.2,2.1,3.6,2.1,14.2,2.1,3.6,2.1,14.2,2.1,3.6,2.1,14.2,2.1,3.6,2.1,14.2,2.1,3.6,2.1,14.2,2.1,3.6,2.1,14.2,2.1,3.6,2.1,14.2,2.1,3.6,2.1" stroke-dashoffset="0"/>
</svg></body></html>
